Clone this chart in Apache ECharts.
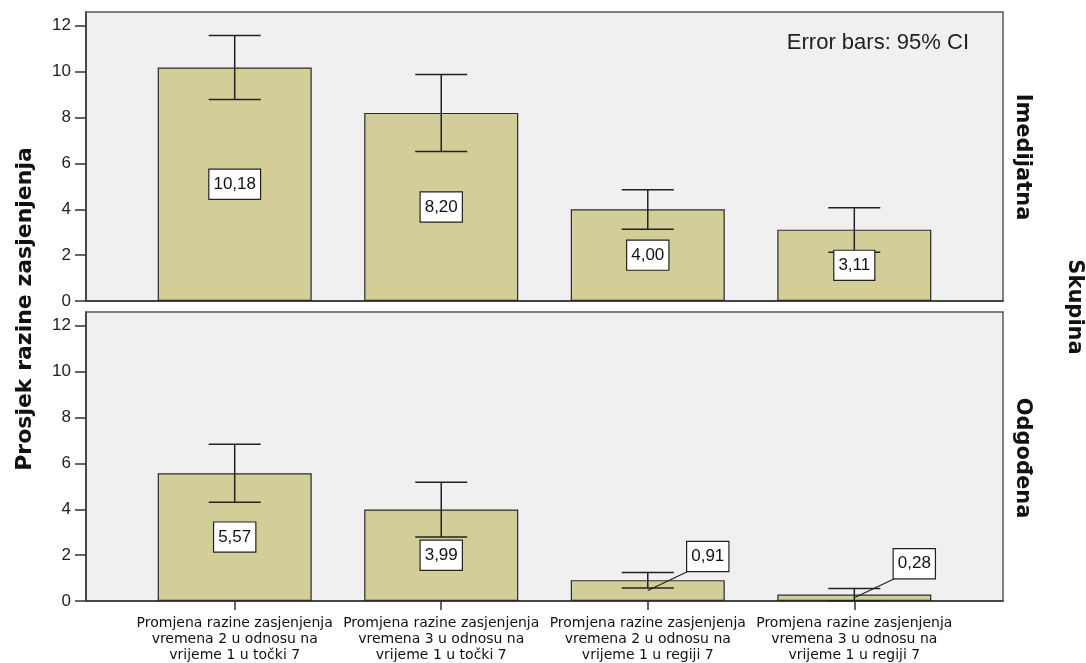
<!DOCTYPE html>
<html>
<head>
<meta charset="utf-8">
<script src="https://cdn.jsdelivr.net/npm/echarts@6/dist/echarts.min.js"></script>
<style>
html,body{margin:0;padding:0;background:#fff;}
#chart{width:1086px;height:663px;}
</style>
</head>
<body>
<div id="chart"></div>
<script>
const categories = [
  'Promjena razine zasjenjenja\nvremena 2 u odnosu na\nvrijeme 1 u točki 7',
  'Promjena razine zasjenjenja\nvremena 3 u odnosu na\nvrijeme 1 u točki 7',
  'Promjena razine zasjenjenja\nvremena 2 u odnosu na\nvrijeme 1 u regiji 7',
  'Promjena razine zasjenjenja\nvremena 3 u odnosu na\nvrijeme 1 u regiji 7'
];
const groups = ['Imedijatna', 'Odgođena'];
const meansImedijatna = [10.18, 8.20, 4.00, 3.11];
const ciLowImedijatna = [8.78, 6.52, 3.13, 2.13];
const ciHighImedijatna = [11.57, 9.87, 4.85, 4.07];
const meansOdgodena = [5.57, 3.99, 0.91, 0.28];
const ciLowOdgodena = [4.31, 2.79, 0.57, 0.01];
const ciHighOdgodena = [6.83, 5.18, 1.24, 0.55];
const yTicks = [0, 2, 4, 6, 8, 10, 12];
const catPositions = [0, 1, 2, 3];
const yTitle = 'Prosjek razine zasjenjenja';
const panelTitle = 'Skupina';
const noteText = 'Error bars: 95% CI';

const FONT = 'Liberation Sans, Arial, sans-serif';
const FONT2 = 'DejaVu Sans, Verdana, sans-serif';
const panels = [
  {means: meansImedijatna, lo: ciLowImedijatna, hi: ciHighImedijatna},
  {means: meansOdgodena, lo: ciLowOdgodena, hi: ciHighOdgodena}
];

const fmt = v => v.toFixed(2).replace('.', ',');

const grids = [
  {left: 86, right: 83, top: 12, height: 289},
  {left: 86, right: 83, top: 312, height: 289}
].map(g => Object.assign(g, {show: true, backgroundColor: '#f0f0f0', borderColor: '#5a5a5a', borderWidth: 1.5}));

const xAxes = [0, 1].map(i => ({
  type: 'value', gridIndex: i, min: -0.72, max: 3.72,
  splitLine: {show: false},
  axisLine: {show: true, onZero: false, lineStyle: {color: '#333', width: 1.5}},
  axisTick: i === 1 ? {show: true, customValues: catPositions, length: 9, lineStyle: {color: '#333', width: 1.5}} : {show: false},
  axisLabel: i === 1 ? {
    show: true, customValues: catPositions,
    formatter: v => categories[Math.round(v)] || '',
    fontFamily: FONT2, fontSize: 14, lineHeight: 16, color: '#111', margin: 14
  } : {show: false}
}));

const yAxes = [0, 1].map(i => ({
  type: 'value', gridIndex: i, min: 0, max: 12.6, interval: 2,
  splitLine: {show: false},
  axisLine: {show: true, onZero: false, lineStyle: {color: '#333', width: 1.5}},
  axisTick: {show: true, customValues: yTicks, length: 11, lineStyle: {color: '#333', width: 1.5}},
  axisLabel: {show: true, customValues: yTicks, fontFamily: FONT, fontSize: 17, color: '#222', margin: 15}
}));

const series = [];
panels.forEach((p, i) => {
  series.push({
    type: 'bar', xAxisIndex: i, yAxisIndex: i,
    data: p.means.map((v, k) => [catPositions[k], v]),
    barWidth: 154,
    itemStyle: {color: '#d3ce97', borderColor: '#2b2b2b', borderWidth: 1.2},
    silent: true
  });
  series.push({
    type: 'custom', xAxisIndex: i, yAxisIndex: i,
    data: p.lo.map((v, k) => [catPositions[k], v, p.hi[k]]),
    encode: {x: 0, y: [1, 2]},
    renderItem: (params, api) => {
      const x = api.value(0);
      const a = api.coord([x, api.value(1)]);
      const b = api.coord([x, api.value(2)]);
      const hw = 26;
      const st = {stroke: '#222', lineWidth: 1.5};
      return {type: 'group', children: [
        {type: 'line', shape: {x1: a[0], y1: a[1], x2: b[0], y2: b[1]}, style: st},
        {type: 'line', shape: {x1: a[0] - hw, y1: a[1], x2: a[0] + hw, y2: a[1]}, style: st},
        {type: 'line', shape: {x1: b[0] - hw, y1: b[1], x2: b[0] + hw, y2: b[1]}, style: st}
      ]};
    },
    z: 5, silent: true
  });
  series.push({
    type: 'custom', xAxisIndex: i, yAxisIndex: i,
    data: p.means.map((v, k) => [catPositions[k], v]),
    encode: {x: 0, y: 1},
    renderItem: (params, api) => {
      const x = api.value(0), v = api.value(1);
      const c = api.coord([x, v / 2]);
      const hPx = api.size([0, v])[1];
      const textStyle = {
        text: fmt(v), x: 0, y: 0, fill: '#111', font: '17px ' + FONT,
        align: 'center', verticalAlign: 'middle',
        backgroundColor: '#fff', borderColor: '#222', borderWidth: 1.2,
        padding: [7, 4, 5, 4]
      };
      if (hPx >= 34) {
        return {type: 'text', x: c[0], y: c[1], style: textStyle, z2: 10};
      }
      const tx = c[0] + 60, ty = c[1] - 34;
      return {type: 'group', children: [
        {type: 'line', shape: {x1: c[0], y1: c[1], x2: tx - 20, y2: ty + 15}, style: {stroke: '#222', lineWidth: 1.2}},
        {type: 'text', x: tx, y: ty, style: textStyle, z2: 10}
      ]};
    },
    z: 10, silent: true
  });
});

const option = {
  animation: false,
  backgroundColor: '#fff',
  grid: grids,
  xAxis: xAxes,
  yAxis: yAxes,
  series: series,
  graphic: [
    {type: 'text', x: 25, y: 309, rotation: Math.PI / 2,
     style: {text: yTitle, font: 'bold 22px ' + FONT2, fill: '#111', align: 'center', verticalAlign: 'middle'}},
    {type: 'text', x: 1022, y: 157, rotation: -Math.PI / 2,
     style: {text: groups[0], font: 'bold 21px ' + FONT2, fill: '#111', align: 'center', verticalAlign: 'middle'}},
    {type: 'text', x: 1022, y: 458, rotation: -Math.PI / 2,
     style: {text: groups[1], font: 'bold 21px ' + FONT2, fill: '#111', align: 'center', verticalAlign: 'middle'}},
    {type: 'text', x: 1074, y: 307, rotation: -Math.PI / 2,
     style: {text: panelTitle, font: 'bold 21px ' + FONT2, fill: '#111', align: 'center', verticalAlign: 'middle'}},
    {type: 'text', x: 969, y: 43,
     style: {text: noteText, font: '22px ' + FONT, fill: '#222', align: 'right', verticalAlign: 'middle'}}
  ]
};

const chart = echarts.init(document.getElementById('chart'), null, {renderer: 'canvas'});
chart.setOption(option);
</script>
</body>
</html>
